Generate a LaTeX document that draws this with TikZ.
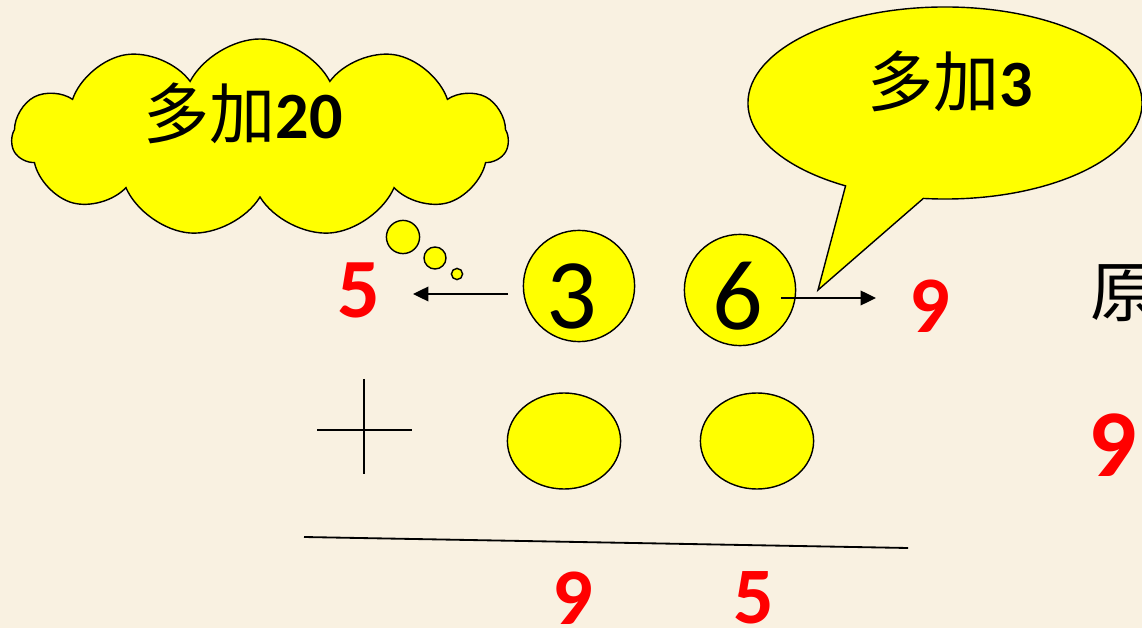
\documentclass[tikz,border=0pt]{standalone}
\usepackage{fontspec}
\setmainfont{Carlito}
\newfontfamily\cjk{Noto Sans CJK SC}
\usetikzlibrary{shapes.geometric, shapes.symbols, shapes.callouts, arrows.meta}
\definecolor{bgcream}{RGB}{249,241,225}
\definecolor{bubbleyellow}{RGB}{255,255,0}
\definecolor{answerred}{RGB}{255,0,0}

\begin{document}
\begin{tikzpicture}[
			x=0.025cm, y=-0.025cm, line width=1pt,
			>={Triangle[length=11pt, width=10.5pt]},
			yellowfill/.style={draw=black, fill=bubbleyellow, line width=1pt},
			digitcircle/.style={yellowfill, circle, minimum size=2.78cm, inner sep=0pt},
			blankoval/.style={yellowfill, ellipse, minimum width=2.83cm, minimum height=2.4cm},
			bigdigit/.style={inner sep=0pt, font=\fontsize{71pt}{71pt}\selectfont},
			reddigit/.style={text=answerred, inner sep=0pt, font=\bfseries\fontsize{57pt}{57pt}\selectfont},
			hanzi/.style={inner sep=0pt, font=\fontsize{47pt}{50pt}\selectfont}
			]
			\useasboundingbox (0,0) rectangle (1142,628);
			\clip (0,0) rectangle (1142,628);
			\fill[bgcream] (0,0) rectangle (1142,628);
			% thought cloud
			\node[yellowfill, cloud, cloud puffs=11, cloud puff arc=125, aspect=2.6, minimum width=12.4cm, minimum height=4.95cm] (thought) at (260,138) {};
			\node[hanzi] (thoughttext) at (243,113) {{\cjk 多加}\textbf{20}};
			\node[yellowfill, circle, minimum size=0.83cm, inner sep=0pt] (puff1) at (403,237) {};
			\node[yellowfill, circle, minimum size=0.55cm, inner sep=0pt] (puff2) at (435,258) {};
			\node[yellowfill, circle, minimum size=0.28cm, inner sep=0pt] (puff3) at (457,274) {};
			% speech bubble
			\coordinate (tip) at (818,290);
			\node[yellowfill, ellipse callout, callout absolute pointer={(tip)}, callout pointer arc=24, minimum width=9.85cm, minimum height=4.8cm] (say) at (945,103) {};
			\node[hanzi] (saytext) at (950,81) {{\cjk 多加}\textbf{3}};
			% the sum
			\node[digitcircle] (tens) at (579,286) {};
			\node[digitcircle] (ones) at (740,290) {};
			\node[bigdigit] (tensdigit) at (572,296) {3};
			\node[bigdigit] (onesdigit) at (738,296) {6};
			\node[blankoval] (tensblank) at (564,441) {};
			\node[blankoval] (onesblank) at (757,441) {};
			\draw (364,379) -- (364,474);
			\draw (317,430) -- (412,430);
			\draw[line width=1.3pt] (304,537) -- (908,548);
			% results
			\node[reddigit, font=\bfseries\fontsize{60pt}{60pt}\selectfont] (carry) at (359,290) {5};
			\node[reddigit] (onesum) at (930,306) {9};
			\node[reddigit] (anstens) at (573,598) {9};
			\node[reddigit] (ansones) at (754,598) {5};
			\node[hanzi, anchor=west] (yuan) at (1090,293) {\cjk 原};
			\node[reddigit, anchor=west, font=\bfseries\fontsize{68pt}{68pt}\selectfont] (edgenine) at (1088,445) {9.};
			\coordinate (fromtens) at (508,294);
			\coordinate (totens) at (413,294);
			\coordinate (fromones) at (781,298);
			\coordinate (toones) at (876,298);
			\draw[->] (fromtens) -- (totens);
			\draw[->] (fromones) -- (toones);
		\end{tikzpicture}
\end{document}
